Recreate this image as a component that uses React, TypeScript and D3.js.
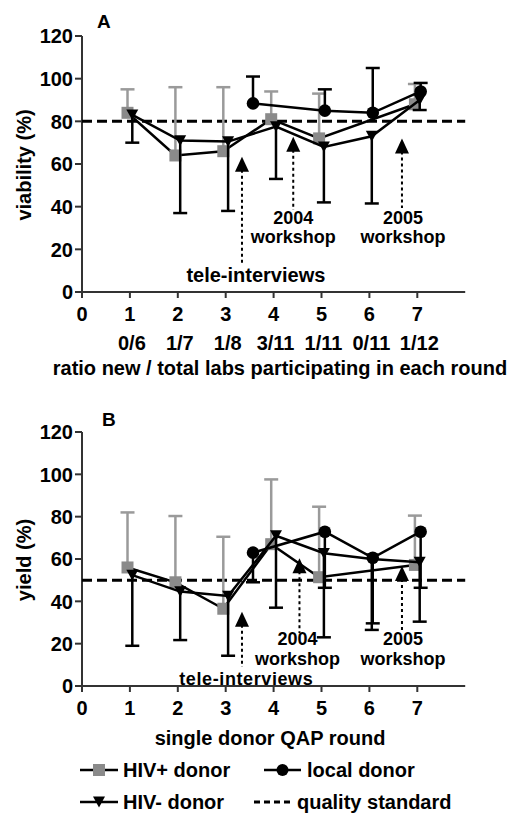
import React from 'react';
import * as d3 from 'd3';

// ---------- data ----------
const rounds = [1, 2, 3, 4, 5, 6, 7];
const xTicks = [0, 1, 2, 3, 4, 5, 6, 7];
const yTicks = [0, 20, 40, 60, 80, 100, 120];
const ratioLabels = ['0/6', '1/7', '1/8', '3/11', '1/11', '0/11', '1/12'];
const localRounds = [3.5, 5, 6, 7];

const viabHivPos = [84, 64, 66, 81, 72, null, 88];
const viabHivPosSD = [11, 32, 30, 13, 21, null, 9.5];
const viabHivNeg = [83, 71, 70.5, 77.5, 68, 73, 90];
const viabHivNegSD = [13, 34, 32.5, 24.5, 26, 31.5, 4.7];
const viabLocal = [88.4, 85, 84, 94];
const viabLocalSD = [12.6, 10, 21, 4];
const viabStandard = 80;

const yieldHivPos = [56, 49, 36.5, 67, 51.4, null, 57.2];
const yieldHivPosSD = [26, 31.3, 34, 30.6, 33.3, null, 23.3];
const yieldHivNeg = [52.4, 44.6, 42.5, 71, 62.7, 60, 58.5];
const yieldHivNegSD = [33.4, 22.9, 28.2, 34, 39.7, 33.5, 28.1];
const yieldLocal = [63, 72.9, 60.6, 72.9];
const yieldLocalSD = [14, 26.5, 31, 26.5];
const yieldStandard = 50;

type Ann = { x: number; tip: number; end: number; labelX: number; lines: { t: string; y: number }[]; size: number; ls?: number };

const annA: Ann[] = [
  { x: 3.34, tip: 63.4, end: 13.6, labelX: 3.63, lines: [{ t: 'tele-interviews', y: 4.7 }], size: 20 },
  { x: 4.41, tip: 72.8, end: 38.4, labelX: 4.41, lines: [{ t: '2004', y: 31.9 }, { t: 'workshop', y: 23 }], size: 18 },
  { x: 6.68, tip: 72, end: 39.4, labelX: 6.7, lines: [{ t: '2005', y: 31.9 }, { t: 'workshop', y: 23 }], size: 18 },
];
const annB: Ann[] = [
  { x: 3.34, tip: 35.1, end: 9, labelX: 3.43, lines: [{ t: 'tele-interviews', y: 0.5 }], size: 18, ls: 0.6 },
  { x: 4.54, tip: 60.3, end: 25, labelX: 4.5, lines: [{ t: '2004', y: 19.4 }, { t: 'workshop', y: 9.9 }], size: 18 },
  { x: 6.68, tip: 56.7, end: 26.5, labelX: 6.7, lines: [{ t: '2005', y: 19.4 }, { t: 'workshop', y: 9.9 }], size: 18 },
];

// ---------- style ----------
const FONT = '"Liberation Sans", Arial, Helvetica, sans-serif';
const GRAY = '#8a8a8a';
const GRAYBAR = '#9a9a9a';
const AXIS = '#333';
const OFF_POS = -0.05;
const OFF_NEG = 0.05;
const OFF_LOC = 0.07;

const x = d3.scaleLinear().domain([0, 8]).range([82, 465.2]);

type Pt = { x: number; y: number; sd: number };

function pts(xs: number[], ys: (number | null)[], sds: (number | null)[], off: number): Pt[] {
  const out: Pt[] = [];
  xs.forEach((r, i) => {
    const v = ys[i];
    if (v !== null && v !== undefined) out.push({ x: r + off, y: v, sd: sds[i] as number });
  });
  return out;
}

function Square({ cx, cy, s = 12 }: { cx: number; cy: number; s?: number }) {
  return <rect x={cx - s / 2} y={cy - s / 2} width={s} height={s} fill={GRAY} />;
}
function Tri({ cx, cy, s = 12 }: { cx: number; cy: number; s?: number }) {
  const h = s * 0.9;
  return <path d={`M${cx - s / 2},${cy - h / 2}L${cx + s / 2},${cy - h / 2}L${cx},${cy + h / 2}Z`} fill="#000" />;
}
function Dot({ cx, cy, r = 6.3 }: { cx: number; cy: number; r?: number }) {
  return <circle cx={cx} cy={cy} r={r} fill="#000" />;
}

function Series({ data, y, dir, color, barColor, marker }: { data: Pt[]; y: d3.ScaleLinear<number, number>; dir: number; color: string; barColor: string; marker: string }) {
  const line = d3.line<Pt>().x(d => x(d.x)).y(d => y(d.y));
  return (
    <g>
      {data.map((d, i) => {
        const y0 = y(d.y);
        const y1 = y(d.y + dir * d.sd);
        return (
          <g key={i}>
            <line x1={x(d.x)} x2={x(d.x)} y1={y0} y2={y1} stroke={barColor} strokeWidth={2.5} />
            <line x1={x(d.x) - 7} x2={x(d.x) + 7} y1={y1} y2={y1} stroke={barColor} strokeWidth={2.5} />
          </g>
        );
      })}
      <path d={line(data) || ''} fill="none" stroke="#000" strokeWidth={2.5} />
      {data.map((d, i) =>
        marker === 'square' ? <Square key={i} cx={x(d.x)} cy={y(d.y)} /> :
        marker === 'tri' ? <Tri key={i} cx={x(d.x)} cy={y(d.y)} /> :
        <Dot key={i} cx={x(d.x)} cy={y(d.y)} />
      )}
    </g>
  );
}

function Panel({ top, bottom, letter, letterPos, yTitle, pos, neg, loc, locDir, std, anns, children }: any) {
  const y = d3.scaleLinear().domain([0, 120]).range([bottom, top]);
  return (
    <g fontFamily={FONT} fontWeight="bold">
      <text x={letterPos[0]} y={letterPos[1]} fontSize={19}>{letter}</text>
      {/* y axis */}
      <line x1={x(0)} x2={x(0)} y1={y(0)} y2={y(120)} stroke={AXIS} strokeWidth={2} />
      {yTicks.map(t => (
        <g key={t}>
          <line x1={x(0) - 7} x2={x(0)} y1={y(t)} y2={y(t)} stroke={AXIS} strokeWidth={2} />
          <text x={x(0) - 9} y={y(t)} dy="0.36em" textAnchor="end" fontSize={20}>{t}</text>
        </g>
      ))}
      {/* x axis */}
      <line x1={x(0)} x2={x(8)} y1={y(0)} y2={y(0)} stroke={AXIS} strokeWidth={2} />
      {xTicks.map(t => (
        <g key={t}>
          <line x1={x(t)} x2={x(t)} y1={y(0)} y2={y(0) + 6} stroke={AXIS} strokeWidth={2} />
          <text x={x(t)} y={y(0) + 29} textAnchor="middle" fontSize={20}>{t}</text>
        </g>
      ))}
      <text transform={`translate(31,${(y(0) + y(120)) / 2 + 1}) rotate(-90)`} textAnchor="middle" fontSize={20}>{yTitle}</text>
      {/* annotations */}
      {anns.map((a: Ann, i: number) => {
        const tx = x(a.x);
        const tipY = y(a.tip);
        return (
          <g key={i}>
            <line x1={tx} x2={tx} y1={tipY + 13} y2={y(a.end)} stroke="#000" strokeWidth={2} strokeDasharray="3,3" />
            <path d={`M${tx},${tipY}L${tx + 7},${tipY + 15}L${tx - 7},${tipY + 15}Z`} fill="#000" />
            {a.lines.map((l, j) => (
              <text key={j} x={x(a.labelX)} y={y(l.y)} textAnchor="middle" fontSize={a.size} letterSpacing={a.ls || 0}>{l.t}</text>
            ))}
          </g>
        );
      })}
      {/* standard */}
      <line x1={x(0)} x2={x(8)} y1={y(std)} y2={y(std)} stroke="#000" strokeWidth={3} strokeDasharray="10,5" />
      <Series data={pos} y={y} dir={1} color={GRAY} barColor={GRAYBAR} marker="square" />
      <Series data={neg} y={y} dir={-1} color="#000" barColor="#000" marker="tri" />
      <Series data={loc} y={y} dir={locDir} color="#000" barColor="#000" marker="dot" />
      {children}
    </g>
  );
}

export default function App() {
  const posA = pts(rounds, viabHivPos, viabHivPosSD, OFF_POS);
  const negA = pts(rounds, viabHivNeg, viabHivNegSD, OFF_NEG);
  const locA = pts(localRounds, viabLocal, viabLocalSD, OFF_LOC);
  const posB = pts(rounds, yieldHivPos, yieldHivPosSD, OFF_POS);
  const negB = pts(rounds, yieldHivNeg, yieldHivNegSD, OFF_NEG);
  const locB = pts(localRounds, yieldLocal, yieldLocalSD, OFF_LOC);

  return (
    <svg width={528} height={814} style={{ position: 'absolute', left: 0, top: 0, background: '#fff' }}>
      <rect width={528} height={814} fill="#fff" />
      <Panel top={36} bottom={292} letter="A" letterPos={[97, 28]} yTitle="viability (%)"
        pos={posA} neg={negA} loc={locA} locDir={1} std={viabStandard} anns={annA}>
        {ratioLabels.map((r, i) => (
          <text key={r + i} x={x(rounds[i]) + 2} y={350} textAnchor="middle" fontSize={20}>{r}</text>
        ))}
        <text x={280} y={375} textAnchor="middle" fontSize={20}>ratio new / total labs participating in each round</text>
      </Panel>
      <Panel top={432} bottom={686} letter="B" letterPos={[102, 426]} yTitle="yield (%)"
        pos={posB} neg={negB} loc={locB} locDir={-1} std={yieldStandard} anns={annB}>
        <text x={270} y={745} textAnchor="middle" fontSize={20}>single donor QAP round</text>
        {/* legend */}
        <g>
          <line x1={80} x2={118} y1={770} y2={770} stroke="#000" strokeWidth={2.5} />
          <Square cx={99} cy={770} s={12} />
          <text x={123} y={777} fontSize={20}>HIV+ donor</text>
          <line x1={264} x2={301} y1={770} y2={770} stroke="#000" strokeWidth={2.5} />
          <Dot cx={282.5} cy={770} r={6} />
          <text x={307} y={777} fontSize={20}>local donor</text>
          <line x1={80} x2={118} y1={802} y2={802} stroke="#000" strokeWidth={2.5} />
          <Tri cx={99} cy={802} s={12} />
          <text x={123} y={809} fontSize={20}>HIV- donor</text>
          <line x1={254} x2={294} y1={802} y2={802} stroke="#000" strokeWidth={3} strokeDasharray="6,4" />
          <text x={297} y={809} fontSize={20}>quality standard</text>
        </g>
      </Panel>
    </svg>
  );
}
